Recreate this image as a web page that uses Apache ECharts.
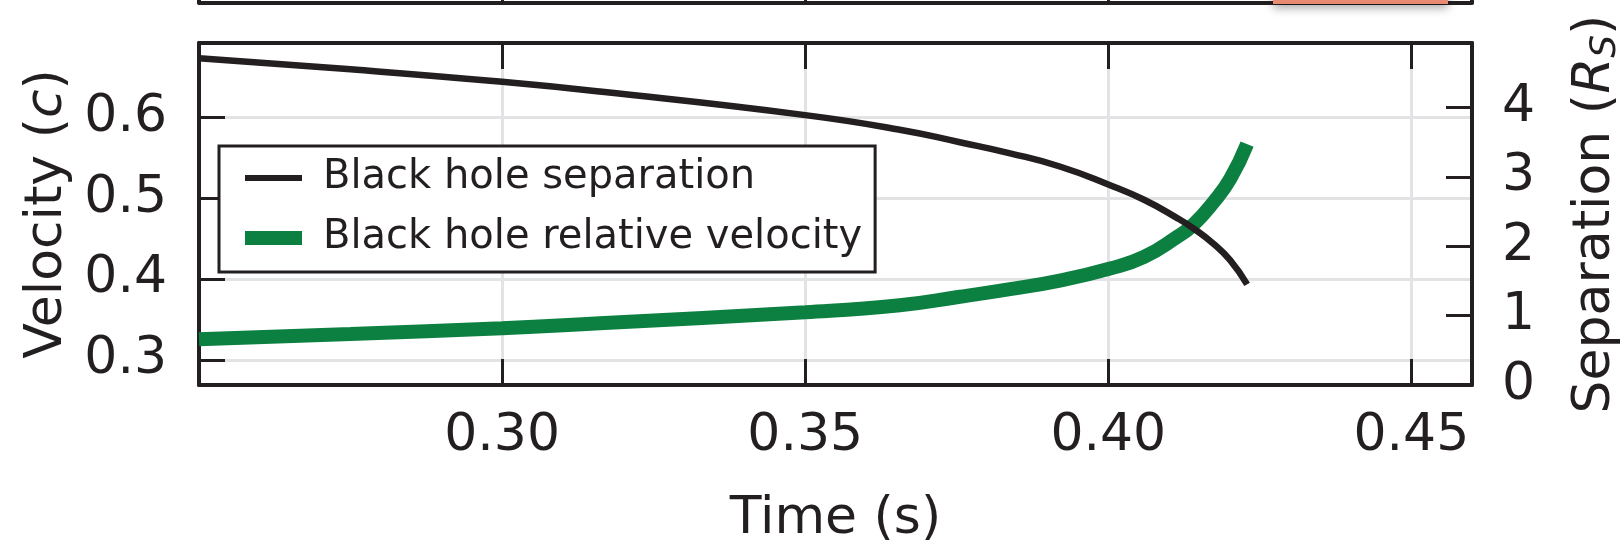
<!DOCTYPE html>
<html>
<head>
<meta charset="utf-8">
<script src="https://cdn.jsdelivr.net/npm/echarts@6/dist/echarts.min.js"></script>
<style>
html,body{margin:0;padding:0;background:#fff;}
#chart{width:1621px;height:547px;}
</style>
</head>
<body>
<div id="chart"></div>
<script>
// Data
const timeS = [0.25, 0.275, 0.30, 0.3161, 0.35, 0.3656, 0.3755, 0.3838, 0.392, 0.4003, 0.4059, 0.4113, 0.414, 0.4173, 0.4201, 0.4229];
const separationRs = [4.71, 4.55, 4.37, 4.23, 3.89, 3.68, 3.50, 3.34, 3.15, 2.88, 2.67, 2.41, 2.26, 2.04, 1.80, 1.45];
const velocityC = [0.3256, 0.332, 0.3392, 0.3454, 0.359, 0.3676, 0.378, 0.3875, 0.398, 0.4129, 0.4273, 0.4517, 0.4669, 0.4944, 0.5234, 0.5665];
const seriesNames = ['Black hole separation', 'Black hole relative velocity'];
const xTitle = 'Time (s)';

const INK = '#231f20';
const GREEN = '#0b8040';
const FONT = 'DejaVu Sans';

const sepData = timeS.map((t, i) => [t, separationRs[i]]);
const velData = timeS.map((t, i) => [t, velocityC[i]]);

const chart = echarts.init(document.getElementById('chart'), null, {renderer: 'canvas'});

const axisLineStyle = {show: true, lineStyle: {color: INK, width: 4}};
const tickStyle = {show: true, inside: true, length: 26, lineStyle: {color: INK, width: 3}};

const option = {
  animation: false,
  backgroundColor: '#fff',
  textStyle: {fontFamily: FONT, color: INK},
  grid: [
    {left: 199, right: 149, top: 43, bottom: 162, containLabel: false, outerBoundsMode: 'none'},
    {left: 199, right: 149, top: -100, bottom: 544.5, containLabel: false, outerBoundsMode: 'none'}
  ],
  xAxis: [
    {
      type: 'value', gridIndex: 0, position: 'bottom', min: 0.25, max: 0.46, interval: 0.05,
      name: xTitle, nameLocation: 'middle', nameGap: 108,
      nameTextStyle: {fontFamily: FONT, fontSize: 52, color: INK},
      axisLine: axisLineStyle, axisTick: tickStyle,
      axisLabel: {fontFamily: FONT, fontSize: 52, color: INK, margin: 25,
        showMinLabel: false, showMaxLabel: false, formatter: v => v.toFixed(2)},
      splitLine: {show: true, lineStyle: {color: '#e3e3e6', width: 3}}
    },
    {
      type: 'value', gridIndex: 0, position: 'top', min: 0.25, max: 0.46, interval: 0.05,
      axisLine: axisLineStyle, axisTick: tickStyle,
      axisLabel: {show: false}, splitLine: {show: false}
    },
    {
      type: 'value', gridIndex: 1, position: 'bottom', min: 0.25, max: 0.46, interval: 0.05,
      axisLine: axisLineStyle, axisTick: tickStyle,
      axisLabel: {show: false}, splitLine: {show: false}
    }
  ],
  yAxis: [
    {
      type: 'value', gridIndex: 0, position: 'left', min: 0.269, max: 0.6915, splitNumber: 5,
      name: 'Velocity ({i|c})', nameLocation: 'middle', nameGap: 124, nameRotate: 90,
      nameTextStyle: {fontFamily: FONT, fontSize: 52, color: INK,
        rich: {i: {fontFamily: FONT, fontSize: 52, fontStyle: 'italic', color: INK}}},
      axisLine: axisLineStyle, axisTick: tickStyle,
      axisLabel: {fontFamily: FONT, fontSize: 52, color: INK, margin: 32,
        showMinLabel: false, showMaxLabel: false, formatter: v => v.toFixed(1)},
      splitLine: {show: true, lineStyle: {color: '#e3e3e6', width: 3}}
    },
    {
      type: 'value', gridIndex: 0, position: 'right', min: 0, max: 4.93, splitNumber: 5,
      name: 'Separation ({i|R}{s|S})', nameLocation: 'middle', nameGap: 94, nameRotate: 90,
      nameTextStyle: {fontFamily: FONT, fontSize: 52, color: INK,
        rich: {
          i: {fontFamily: FONT, fontSize: 52, fontStyle: 'italic', color: INK},
          s: {fontFamily: FONT, fontSize: 36, fontStyle: 'italic', color: INK, verticalAlign: 'bottom', padding: [22, 0, 0, 0]}
        }},
      axisLine: axisLineStyle, axisTick: tickStyle,
      axisLabel: {fontFamily: FONT, fontSize: 52, color: INK, margin: 30,
        showMaxLabel: false, formatter: v => String(Math.round(v))},
      splitLine: {show: false}
    },
    {
      type: 'value', gridIndex: 1, position: 'left', min: 0, max: 1,
      axisLine: axisLineStyle, axisTick: {show: false}, axisLabel: {show: false}, splitLine: {show: false}
    },
    {
      type: 'value', gridIndex: 1, position: 'right', min: 0, max: 1,
      axisLine: axisLineStyle, axisTick: {show: false}, axisLabel: {show: false}, splitLine: {show: false}
    }
  ],
  legend: {
    show: true,
    orient: 'vertical',
    left: 219, top: 146,
    padding: [10, 13, 12, 19],
    itemGap: 16,
    itemWidth: 57, itemHeight: 14,
    backgroundColor: '#fff',
    borderColor: INK, borderWidth: 3, borderRadius: 0,
    itemStyle: {opacity: 0},
    textStyle: {fontFamily: FONT, fontSize: 40, color: INK, padding: [0, 0, 0, 16], lineHeight: 44},
    data: [
      {name: seriesNames[0], itemStyle: {opacity: 0}, lineStyle: {width: 6, color: INK, cap: 'butt'}},
      {name: seriesNames[1], itemStyle: {opacity: 0}, lineStyle: {width: 14, color: GREEN, cap: 'butt'}}
    ]
  },
  graphic: [
    {type: 'rect', z: 5, shape: {x: 1273, y: -12, width: 175, height: 16},
      style: {fill: '#e88a72', shadowBlur: 10, shadowColor: 'rgba(0,0,0,0.35)', shadowOffsetY: 4}}
  ],
  series: [
    {
      name: seriesNames[0], type: 'line', xAxisIndex: 0, yAxisIndex: 1,
      data: sepData, smooth: 0.5, symbol: 'none', showSymbol: false,
      lineStyle: {color: INK, width: 6.5, cap: 'butt'}, itemStyle: {color: INK}, z: 3
    },
    {
      name: seriesNames[1], type: 'line', xAxisIndex: 0, yAxisIndex: 0,
      data: velData, smooth: 0.5, symbol: 'none', showSymbol: false,
      lineStyle: {color: GREEN, width: 14, cap: 'butt'}, itemStyle: {color: GREEN}, z: 2
    }
  ]
};
chart.setOption(option);
</script>
</body>
</html>
